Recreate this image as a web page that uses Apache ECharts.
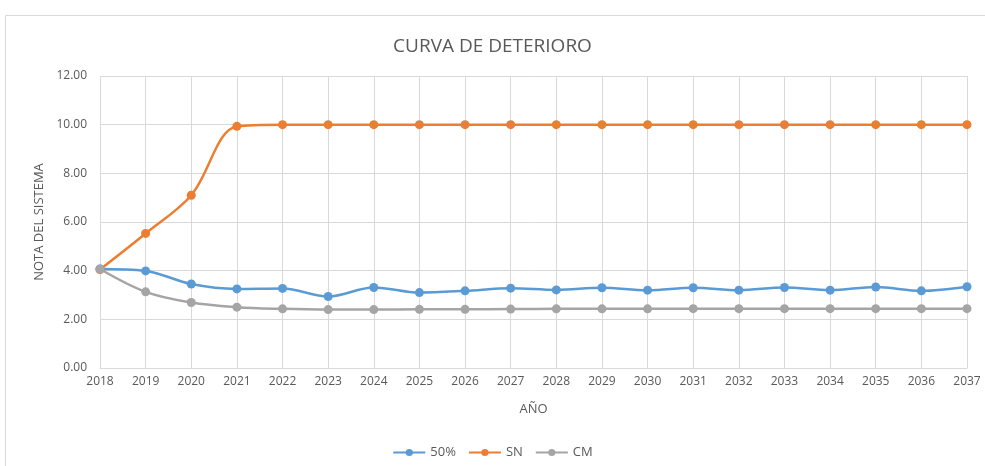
<!DOCTYPE html>
<html>
<head>
<meta charset="utf-8">
<script src="https://cdn.jsdelivr.net/npm/echarts@6/dist/echarts.min.js"></script>
<style>
  html, body { margin: 0; padding: 0; background: #fff; }
  #chart { width: 985px; height: 466px; }
</style>
</head>
<body>
<div id="chart"></div>
<script>
const years = ["2018", "2019", "2020", "2021", "2022", "2023", "2024", "2025", "2026", "2027",
  "2028", "2029", "2030", "2031", "2032", "2033", "2034", "2035", "2036", "2037"];
const half = [4.07, 3.99, 3.45, 3.25, 3.27, 2.94, 3.31, 3.10, 3.17, 3.28,
  3.21, 3.30, 3.20, 3.30, 3.20, 3.31, 3.20, 3.33, 3.17, 3.34];
const sn = [4.05, 5.53, 7.10, 9.93, 10, 10, 10, 10, 10, 10,
  10, 10, 10, 10, 10, 10, 10, 10, 10, 10];
const cm = [4.07, 3.13, 2.69, 2.50, 2.43, 2.40, 2.40, 2.41, 2.41, 2.42,
  2.43, 2.43, 2.43, 2.44, 2.44, 2.44, 2.44, 2.44, 2.44, 2.44];

const font = "Open Sans";
const textColor = "#595959";
const gridColor = "#d9d9d9";

function mkSeries(name, data, color) {
  return {
    name: name,
    type: "line",
    data: data,
    smooth: 0.35,
    symbol: "circle",
    symbolSize: 9,
    lineStyle: { width: 2.5, color: color },
    itemStyle: { color: color },
  };
}

const chart = echarts.init(document.getElementById("chart"));
chart.setOption({
  animation: false,
  textStyle: { fontFamily: font },
  graphic: [
    {
      type: "rect",
      shape: { x: 5.5, y: 15.5, width: 1000, height: 500 },
      style: { fill: "none", stroke: gridColor, lineWidth: 1 },
      silent: true,
    },
  ],
  title: {
    text: "CURVA DE DETERIORO",
    left: "center",
    top: 32,
    textStyle: { fontFamily: font, fontWeight: "normal", fontSize: 19, color: textColor },
  },
  grid: { left: 100, right: 18, top: 76, bottom: 98 },
  legend: {
    bottom: 2,
    left: "center",
    itemWidth: 32,
    itemHeight: 9,
    itemGap: 12,
    textStyle: { fontFamily: font, fontSize: 13, color: textColor },
    data: ["50%", "SN", "CM"],
  },
  xAxis: {
    type: "category",
    data: years,
    boundaryGap: false,
    name: "AÑO",
    nameLocation: "middle",
    nameGap: 35,
    nameTextStyle: { fontFamily: font, fontSize: 13, color: textColor },
    axisLine: { lineStyle: { color: gridColor } },
    axisTick: { show: false },
    axisLabel: { color: textColor, fontSize: 12, margin: 8, interval: 0 },
    splitLine: { show: true, lineStyle: { color: gridColor } },
  },
  yAxis: {
    type: "value",
    min: 0,
    max: 12,
    interval: 2,
    name: "NOTA DEL SISTEMA",
    nameLocation: "middle",
    nameGap: 48,
    nameTextStyle: { fontFamily: font, fontSize: 13, color: textColor },
    axisLine: { show: false },
    axisTick: { show: false },
    axisLabel: {
      color: textColor,
      fontSize: 12,
      margin: 13,
      formatter: (v) => v.toFixed(2),
    },
    splitLine: { lineStyle: { color: gridColor } },
  },
  series: [
    mkSeries("50%", half, "#5b9bd5"),
    mkSeries("SN", sn, "#ed7d31"),
    mkSeries("CM", cm, "#a5a5a5"),
  ],
});
</script>
</body>
</html>
